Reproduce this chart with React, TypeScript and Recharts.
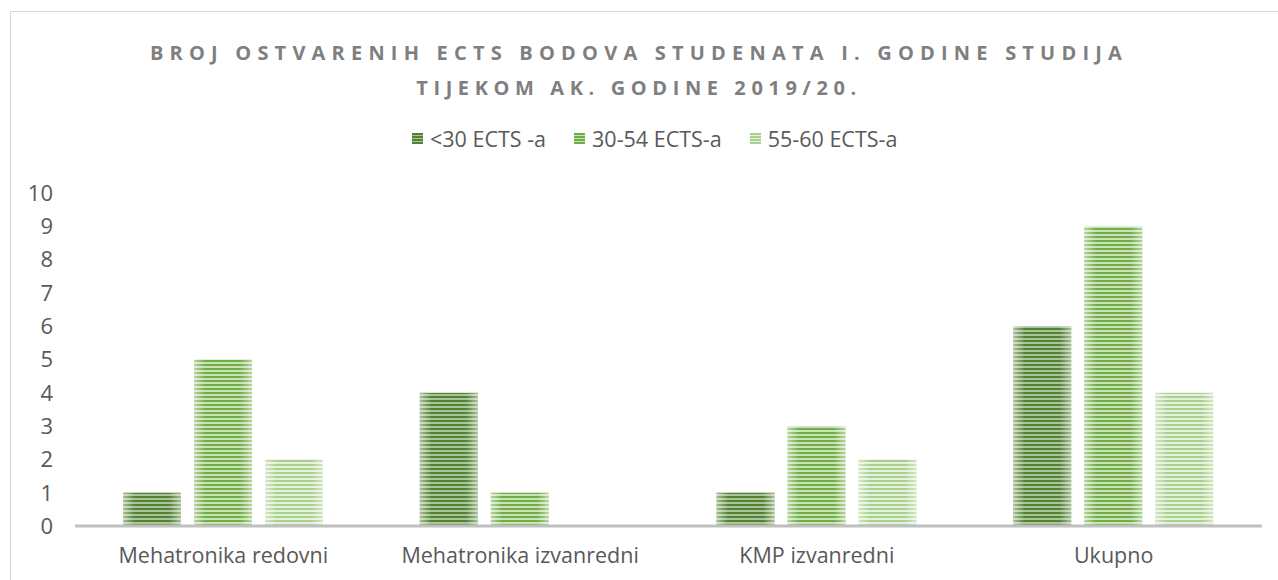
import React from "react";
import { BarChart, Bar, XAxis, YAxis } from "recharts";

const categories = [
  "Mehatronika redovni",
  "Mehatronika izvanredni",
  "KMP izvanredni",
  "Ukupno",
];
const under30 = [1, 4, 1, 6];
const from30to54 = [5, 1, 3, 9];
const from55to60 = [2, 0, 2, 4];
const yTicks = [0, 1, 2, 3, 4, 5, 6, 7, 8, 9, 10];

const seriesNames = ["<30 ECTS -a", "30-54 ECTS-a", "55-60 ECTS-a"];
const seriesKeys = ["under30", "from30to54", "from55to60"];

// stripe colours per series: [dark stripe, light stripe]
const stripes = [
  ["#548235", "#aac59a"],
  ["#70ad47", "#c9e2b8"],
  ["#a9d18e", "#e4f0dc"],
];

const data = categories.map((name, i) => ({
  name,
  under30: under30[i],
  from30to54: from30to54[i],
  from55to60: from55to60[i],
}));

const FONT = "'Open Sans', sans-serif";

function StripeDefs() {
  return (
    <defs>
      {stripes.map(([dark, light], i) => (
        <pattern
          key={i}
          id={`stripe${i}`}
          patternUnits="userSpaceOnUse"
          width={4}
          height={4}
        >
          <rect width={4} height={4} fill={light} />
          <rect width={4} height={2} fill={dark} />
        </pattern>
      ))}
      <linearGradient id="edgeGlow" x1="0" y1="0" x2="1" y2="0">
        <stop offset="0" stopColor="#fff" stopOpacity={0.5} />
        <stop offset="0.2" stopColor="#fff" stopOpacity={0} />
        <stop offset="0.8" stopColor="#fff" stopOpacity={0} />
        <stop offset="1" stopColor="#fff" stopOpacity={0.5} />
      </linearGradient>
    </defs>
  );
}

const makeShape = (idx: number) => (props: any) => {
  const { x, y, width, height } = props;
  if (!height || height <= 0) return <g />;
  return (
    <g>
      <rect x={x} y={y} width={width} height={height} fill={`url(#stripe${idx})`} />
      <rect x={x} y={y} width={width} height={height} fill="url(#edgeGlow)" />
    </g>
  );
};

function LegendSwatch({ idx }: { idx: number }) {
  return (
    <svg width={11} height={11} style={{ marginRight: 7 }}>
      <defs>
        <pattern
          id={`lg${idx}`}
          patternUnits="userSpaceOnUse"
          width={3}
          height={3}
        >
          <rect width={3} height={3} fill={stripes[idx][1]} />
          <rect width={3} height={2} fill={stripes[idx][0]} />
        </pattern>
      </defs>
      <rect width={11} height={11} fill={`url(#lg${idx})`} />
    </svg>
  );
}

export default function App() {
  return (
    <div
      style={{
        position: "fixed",
        left: 0,
        top: 0,
        width: 1278,
        height: 580,
        overflow: "hidden",
        background: "#fff",
        fontFamily: FONT,
      }}
    >
      <div
        style={{
          position: "absolute",
          left: 10,
          top: 11,
          width: 1320,
          height: 620,
          border: "1px solid #d9d9d9",
        }}
      />
      <div
        style={{
          position: "absolute",
          left: 3,
          width: 1272,
          top: 35,
          textAlign: "center",
          color: "#7f7f7f",
          fontWeight: 700,
          fontSize: 20,
          letterSpacing: 6.2,
          lineHeight: "35px",
        }}
      >
        <div>BROJ OSTVARENIH ECTS BODOVA STUDENATA I. GODINE STUDIJA</div>
        <div style={{ letterSpacing: 5.6 }}>TIJEKOM AK. GODINE 2019/20.</div>
      </div>
      <div
        style={{
          position: "absolute",
          left: 412,
          top: 124,
          display: "flex",
          alignItems: "center",
          color: "#595959",
          fontSize: 21.5,
        }}
      >
        {seriesNames.map((n, i) => (
          <div
            key={n}
            style={{ display: "flex", alignItems: "center", marginRight: i < 2 ? 28 : 0 }}
          >
            <LegendSwatch idx={i} />
            <span>{n}</span>
          </div>
        ))}
      </div>
      <div style={{ position: "absolute", left: 0, top: 0 }}>
        <BarChart
          width={1278}
          height={580}
          data={data}
          margin={{ top: 193, right: 16, bottom: 0, left: 0 }}
          barSize={58}
          barGap={13}
        >
          <StripeDefs />
          <XAxis
            dataKey="name"
            height={54}
            tickLine={false}
            tickSize={0}
            tickMargin={22}
            axisLine={{ stroke: "#bfbfbf", strokeWidth: 3 }}
            tick={{ fill: "#595959", fontSize: 21.5, fontFamily: FONT }}
          />
          <YAxis
            width={75}
            domain={[0, 10]}
            ticks={yTicks}
            axisLine={false}
            tickLine={false}
            tickSize={0}
            tickMargin={22}
            tick={{ fill: "#595959", fontSize: 22, fontFamily: FONT }}
          />
          {seriesKeys.map((k, i) => (
            <Bar
              key={k}
              dataKey={k}
              name={seriesNames[i]}
              fill={stripes[i][0]}
              shape={makeShape(i)}
              isAnimationActive={false}
            />
          ))}
        </BarChart>
      </div>
    </div>
  );
}
